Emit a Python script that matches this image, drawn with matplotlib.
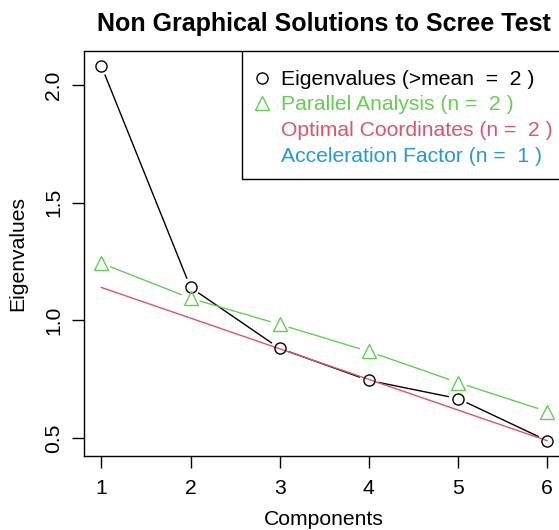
import matplotlib
matplotlib.use("Agg")
import matplotlib.pyplot as plt
from matplotlib.lines import Line2D
from matplotlib.patches import Rectangle
import numpy as np

plt.rcParams["font.family"] = ["Liberation Sans", "DejaVu Sans"]

components = [1, 2, 3, 4, 5, 6]
eigenvalues = [2.081, 1.140, 0.881, 0.745, 0.668, 0.489]
parallel = [1.243, 1.094, 0.983, 0.868, 0.736, 0.613]
oc_x = [1, 6]
oc_y = [1.140, 0.489]
legend_labels = ["Eigenvalues (>mean  =  2 )", "Parallel Analysis (n =  2 )",
                 "Optimal Coordinates (n =  2 )", "Acceleration Factor (n =  1 )"]

GREEN, RED, BLUE = "#61D04F", "#DF536B", "#2297E6"
FS = 15.2


def _gapped(ax, x, y, color, gap=10):
    """R type='b' style: line segments stopping short of the points."""
    pts = ax.transData.transform(np.column_stack([x, y]))
    inv = ax.transData.inverted()
    for p, q in zip(pts[:-1], pts[1:]):
        d = q - p
        L = np.hypot(*d)
        if L <= 2 * gap:
            continue
        u = d / L
        seg = inv.transform(np.vstack([p + u * gap, q - u * gap]))
        ax.plot(seg[:, 0], seg[:, 1], color=color, lw=1)


fig = plt.figure(figsize=(5.59, 5.30), dpi=100)
ax = fig.add_axes([83.5 / 559, 74.3 / 530, (565 - 83.5) / 559, (479.1 - 74.3) / 530])

allv = eigenvalues + parallel + oc_y
lo, hi = min(allv), max(allv)
pad = 0.04 * (hi - lo)
ax.set_xlim(0.8, 6.2)
ax.set_ylim(lo - pad, hi + pad)

_gapped(ax, components, eigenvalues, "black")
_gapped(ax, components, parallel, GREEN)
ax.plot(oc_x, oc_y, color=RED, lw=1)
ax.plot(components, eigenvalues, ls="none", marker="o", ms=8, mfc="none", mec="black", mew=1)
ax.plot(components, parallel, ls="none", marker="^", ms=10, mfc="none", mec=GREEN, mew=1)

ax.set_xticks(components)
ax.set_yticks([0.5, 1.0, 1.5, 2.0])
ax.set_yticklabels(["0.5", "1.0", "1.5", "2.0"])
ax.tick_params(length=8.6, width=1, labelsize=FS, direction="out")
ax.tick_params(axis="x", pad=8)
ax.tick_params(axis="y", pad=6, labelrotation=90)
for t in ax.get_yticklabels():
    t.set_va("center")
for s in ax.spines.values():
    s.set_linewidth(1)

ax.set_xlabel("Components", fontsize=FS, labelpad=8.5)
ax.set_ylabel("Eigenvalues", fontsize=FS, labelpad=12)
ax.set_title("Non Graphical Solutions to Scree Test", fontsize=18, fontweight="bold", pad=14)

# legend box like R's legend("topright"), frame drawn separately
ax.add_patch(Rectangle((0.329, 0.6836), 1.0, 0.3164, transform=ax.transAxes,
                       fill=True, facecolor="white", edgecolor="black", lw=1, zorder=4))
handles = [
    Line2D([], [], ls="none", marker="o", ms=8, mfc="none", mec="black", mew=1),
    Line2D([], [], ls="none", marker="^", ms=10, mfc="none", mec=GREEN, mew=1),
    Line2D([], [], ls="none", marker="none"),
    Line2D([], [], ls="none", marker="none"),
]
leg = ax.legend(handles, legend_labels, loc="upper left", bbox_to_anchor=(0.349, 0.953),
                borderaxespad=0, frameon=False, fontsize=FS, handlelength=1.0,
                handletextpad=0.41, labelspacing=0.31, borderpad=0)
leg.set_zorder(5)
for t, c in zip(leg.get_texts(), ["black", GREEN, RED, BLUE]):
    t.set_color(c)

fig.savefig("out.png", dpi=100)
